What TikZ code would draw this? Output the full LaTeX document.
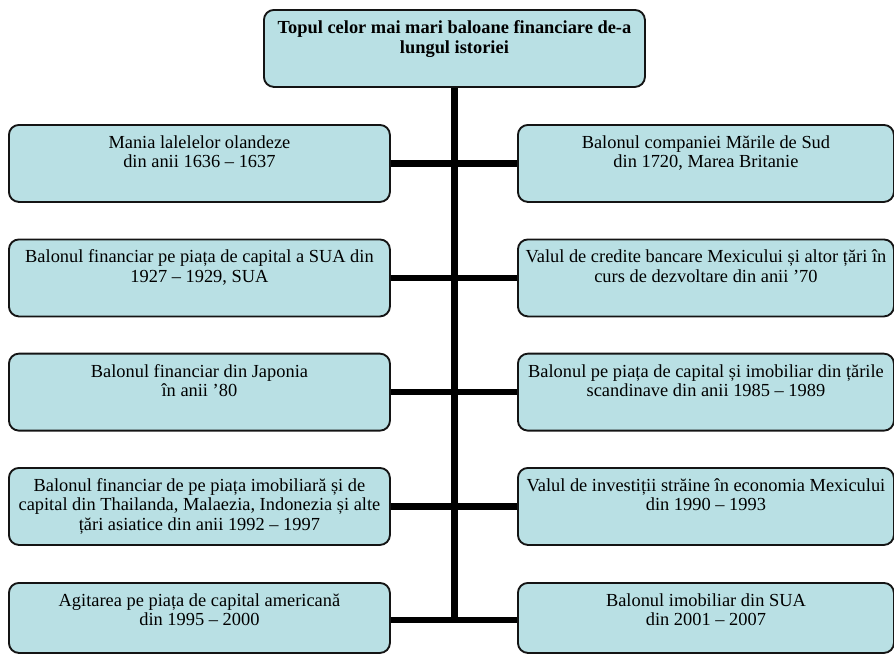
\documentclass[tikz,border=0pt]{standalone}
\usepackage{fontspec}
\setmainfont{Liberation Serif}
\usetikzlibrary{backgrounds}
\definecolor{boxfill}{RGB}{185,224,228}
\definecolor{boxline}{RGB}{20,20,20}
\newcommand\boxtxt[5]{\begin{minipage}[t][#2][t]{#1}\centering\fontsize{13.8}{#3}\selectfont\rule{0pt}{#4}#5\end{minipage}}
\tikzset{
  bubble/.style={draw=boxline, line width=1.4pt, fill=boxfill, rounded corners=7.5pt, inner sep=0pt, anchor=north west},
  conn/.style={line width=4.9pt, black, line cap=butt}
}
\begin{document}
\begin{tikzpicture}[x=0.75pt,y=-0.75pt]
\useasboundingbox (0,0) rectangle (894,654);
\node[bubble] (T) at (263,9) {\boxtxt{285.75pt}{57.75pt}{15.2pt}{17.5pt}{\bfseries Topul celor mai mari baloane financiare de-a\\lungul istoriei}};
% left column
\node[bubble] (L1) at (8,124) {\boxtxt{285.75pt}{57.75pt}{14.5pt}{17.6pt}{Mania lalelelor olandeze\\din anii 1636 – 1637}};
\node[bubble] (L2) at (8,238.5) {\boxtxt{285.75pt}{57.75pt}{14.5pt}{17.6pt}{Balonul financiar pe piața de capital a SUA din\\1927 – 1929, SUA}};
\node[bubble] (L3) at (8,352.7) {\boxtxt{285.75pt}{57.75pt}{14.5pt}{17.6pt}{Balonul financiar din Japonia\\în anii ’80}};
\node[bubble] (L4) at (8,467) {\boxtxt{285.75pt}{57.75pt}{14.5pt}{17.6pt}{Balonul financiar de pe piața imobiliară și de\\capital din Thailanda, Malaezia, Indonezia și alte\\țări asiatice din anii 1992 – 1997}};
\node[bubble] (L5) at (8,582) {\boxtxt{285.75pt}{52.5pt}{14.5pt}{17.6pt}{Agitarea pe piața de capital americană\\din 1995 – 2000}};
% right column
\node[bubble] (R1) at (517,124) {\boxtxt{282pt}{57.75pt}{14.5pt}{17.6pt}{Balonul companiei Mările de Sud\\din 1720, Marea Britanie}};
\node[bubble] (R2) at (517,238.5) {\boxtxt{282pt}{57.75pt}{14.5pt}{17.6pt}{Valul de credite bancare Mexicului și altor țări în\\curs de dezvoltare din anii ’70}};
\node[bubble] (R3) at (517,352.7) {\boxtxt{282pt}{57.75pt}{14.5pt}{17.6pt}{Balonul pe piața de capital și imobiliar din țările\\scandinave din anii 1985 – 1989}};
\node[bubble] (R4) at (517,467) {\boxtxt{282pt}{57.75pt}{14.5pt}{17.6pt}{Valul de investiții străine în economia Mexicului\\din 1990 – 1993}};
\node[bubble] (R5) at (517,582) {\boxtxt{282pt}{52.5pt}{14.5pt}{17.6pt}{Balonul imobiliar din SUA\\din 2001 – 2007}};
\coordinate (j5) at (453.5,620);
\begin{scope}[on background layer]
\draw[conn] (T.south) -- (T.south |- j5);
\draw[conn] (L1.east) -- (R1.west);
\draw[conn] (L2.east) -- (R2.west);
\draw[conn] (L3.east) -- (R3.west);
\draw[conn] (L4.east) -- (R4.west);
\draw[conn] (L5.east |- j5) -- (R5.west |- j5);
\end{scope}
\end{tikzpicture}
\end{document}
